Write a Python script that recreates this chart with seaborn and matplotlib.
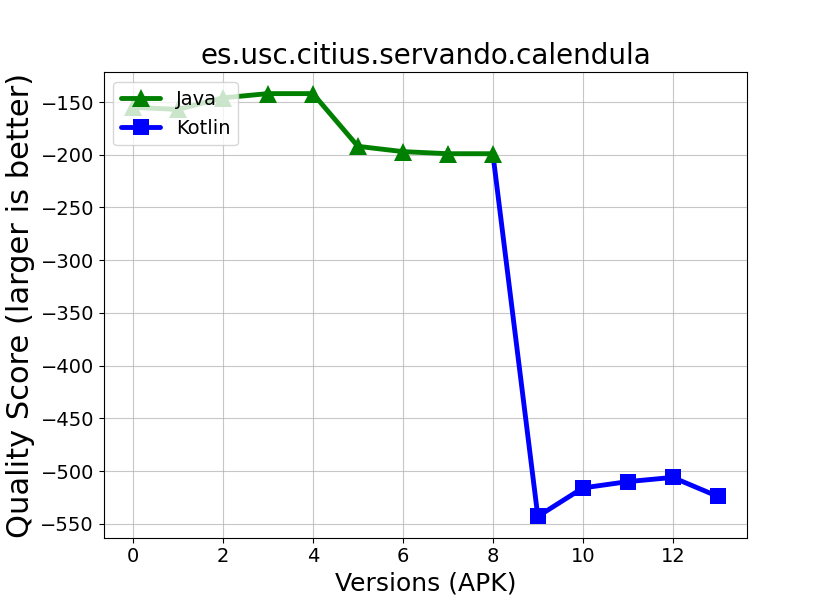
import numpy as np
import pandas as pd
import matplotlib
matplotlib.use("Agg")
import matplotlib.pyplot as plt
import seaborn as sns

# DATA
java_versions = [0, 1, 2, 3, 4, 5, 6, 7, 8]
java_scores = [-155, -157, -146, -142, -142, -192, -197, -199, -199]
kotlin_versions = [8, 9, 10, 11, 12, 13]
kotlin_scores = [-199, -543, -516, -510, -506, -524]

java = pd.DataFrame({"version": java_versions, "score": java_scores})
kotlin = pd.DataFrame({"version": kotlin_versions, "score": kotlin_scores})

sns.set_style("ticks")
plt.rcParams['font.family'] = ['DejaVu Sans']
plt.rcParams['text.color'] = 'black'
plt.rcParams['axes.labelcolor'] = 'black'
plt.rcParams['xtick.color'] = 'black'
plt.rcParams['ytick.color'] = 'black'

fig, ax = plt.subplots(figsize=(8.3, 6.04), dpi=100)
fig.subplots_adjust(left=0.125, right=0.9, top=0.88, bottom=0.11)

# the Kotlin line starts at the last Java version; its first marker sits under the triangle
sns.lineplot(data=kotlin, x="version", y="score", ax=ax, color="blue", marker="s",
             markersize=12, markeredgewidth=0, linewidth=3.5, label="Kotlin",
             markevery=list(range(1, len(kotlin_versions))), zorder=2)
sns.lineplot(data=java, x="version", y="score", ax=ax, color="green", marker="^",
             markersize=13, markeredgewidth=0, linewidth=3.5, label="Java", zorder=3)

ax.grid(True, color="#b0b0b0", linewidth=0.8, alpha=0.7)
ax.set_axisbelow(True)
for sp in ax.spines.values():
    sp.set_visible(True)
    sp.set_color("black")
    sp.set_linewidth(0.8)

ax.set_xticks(range(0, 14, 2))
ax.tick_params(labelsize=14, colors="black")
ax.set_xlabel("Versions (APK)", fontsize=18)
ax.set_ylabel("Quality Score (larger is better)", fontsize=22)
ax.set_title("es.usc.citius.servando.calendula", fontsize=20)

handles, labels = ax.get_legend_handles_labels()
order = [labels.index("Java"), labels.index("Kotlin")]
ax.legend([handles[i] for i in order], [labels[i] for i in order],
          loc="upper left", fontsize=14, framealpha=0.8)

plt.savefig("out.png", dpi=100)
